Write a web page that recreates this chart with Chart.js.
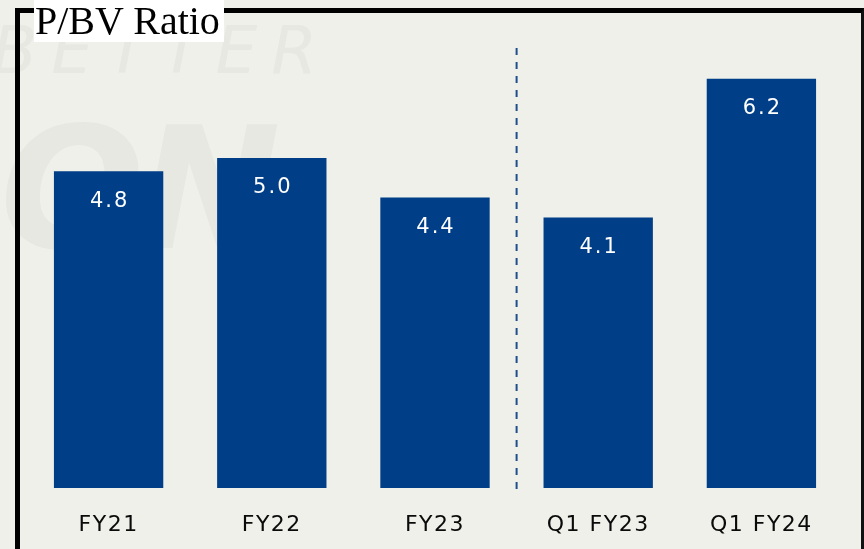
<!DOCTYPE html>
<html>
<head>
<meta charset="utf-8">
<script src="https://cdn.jsdelivr.net/npm/chart.js@4.4.0/dist/chart.umd.min.js"></script>
<style>
  html, body { margin: 0; padding: 0; }
  body { width: 864px; height: 549px; overflow: hidden; position: relative; background: #eef0e9; }
  .wm { position: absolute; color: rgba(150, 155, 140, 0.09); font-family: "DejaVu Sans", sans-serif; font-style: italic; white-space: nowrap; }
  #wm1 { left: -8px; top: 12px; font-size: 66px; letter-spacing: 14px; font-weight: normal; }
  #wm2 { left: 0px; top: 90px; font-size: 170px; font-weight: bold; letter-spacing: -6px; }
  #frame { position: absolute; left: 15px; top: 8px; width: 849px; height: 600px; box-sizing: border-box;
           border-left: 5px solid #000; border-top: 5px solid #000; border-right: 3px solid #111; }
  #title { position: absolute; left: 34px; top: 0; width: 190px; height: 42px; background: #fff;
           font-family: "Liberation Serif", serif; font-size: 40px; line-height: 42px; color: #000; padding-left: 1px; box-sizing: border-box; }
  #wrap { position: absolute; left: 0; top: 0; width: 864px; height: 549px; }
</style>
</head>
<body>
<div class="wm" id="wm1">BETTER</div>
<div class="wm" id="wm2">ON</div>
<div id="frame"></div>
<div id="wrap"><canvas id="pbvChart"></canvas></div>
<div id="title">P/BV Ratio</div>
<script>
// --- dados ---
const categorias = ["FY21", "FY22", "FY23", "Q1 FY23", "Q1 FY24"];
const valores = [4.8, 5.0, 4.4, 4.1, 6.2];
const rotulos = ["4.8", "5.0", "4.4", "4.1", "6.2"];

const AZUL = "#003e87";

// rótulos brancos dentro das barras
const labelsDentro = {
  id: "labelsDentro",
  afterDatasetsDraw(chart) {
    const ctx = chart.ctx;
    const meta = chart.getDatasetMeta(0);
    ctx.save();
    ctx.fillStyle = "#ffffff";
    ctx.font = "21px 'DejaVu Sans', sans-serif";
    ctx.textAlign = "center";
    ctx.textBaseline = "middle";
    ctx.letterSpacing = "2px";
    meta.data.forEach((bar, i) => {
      ctx.fillText(rotulos[i], bar.x + 1, bar.y + 30);
    });
    ctx.restore();
  }
};

// linha tracejada separando anual de trimestral
const divisor = {
  id: "divisor",
  afterDatasetsDraw(chart) {
    const x = chart.scales.x;
    const px = (x.getPixelForValue(2) + x.getPixelForValue(3)) / 2;
    const ctx = chart.ctx;
    ctx.save();
    ctx.strokeStyle = "#1d4f8f";
    ctx.lineWidth = 2;
    ctx.setLineDash([7, 7]);
    ctx.beginPath();
    ctx.moveTo(px, 48);
    ctx.lineTo(px, chart.chartArea.bottom + 2);
    ctx.stroke();
    ctx.restore();
  }
};

// espaçamento das letras nos ticks
const espacamento = {
  id: "espacamento",
  beforeDraw(chart) { chart.ctx.letterSpacing = "1.5px"; },
  afterDraw(chart) { chart.ctx.letterSpacing = "0px"; }
};

new Chart(document.getElementById("pbvChart"), {
  type: "bar",
  data: {
    labels: categorias,
    datasets: [{
      data: valores,
      backgroundColor: AZUL,
      borderWidth: 0,
      barPercentage: 0.67,
      categoryPercentage: 1.0
    }]
  },
  options: {
    responsive: true,
    maintainAspectRatio: false,
    animation: false,
    layout: { padding: { left: 27, right: 21, top: 26, bottom: 14 } },
    plugins: { legend: { display: false }, tooltip: { enabled: false }, title: { display: false } },
    scales: {
      x: {
        grid: { display: false, drawTicks: false },
        border: { display: false },
        afterFit(scale) { scale.height = 47; },
        ticks: { color: "#0a0a0a", padding: 24, font: { family: "'DejaVu Sans', sans-serif", size: 22 } }
      },
      y: { display: false, min: 0, max: 7 }
    }
  },
  plugins: [espacamento, labelsDentro, divisor]
});
</script>
</body>
</html>
